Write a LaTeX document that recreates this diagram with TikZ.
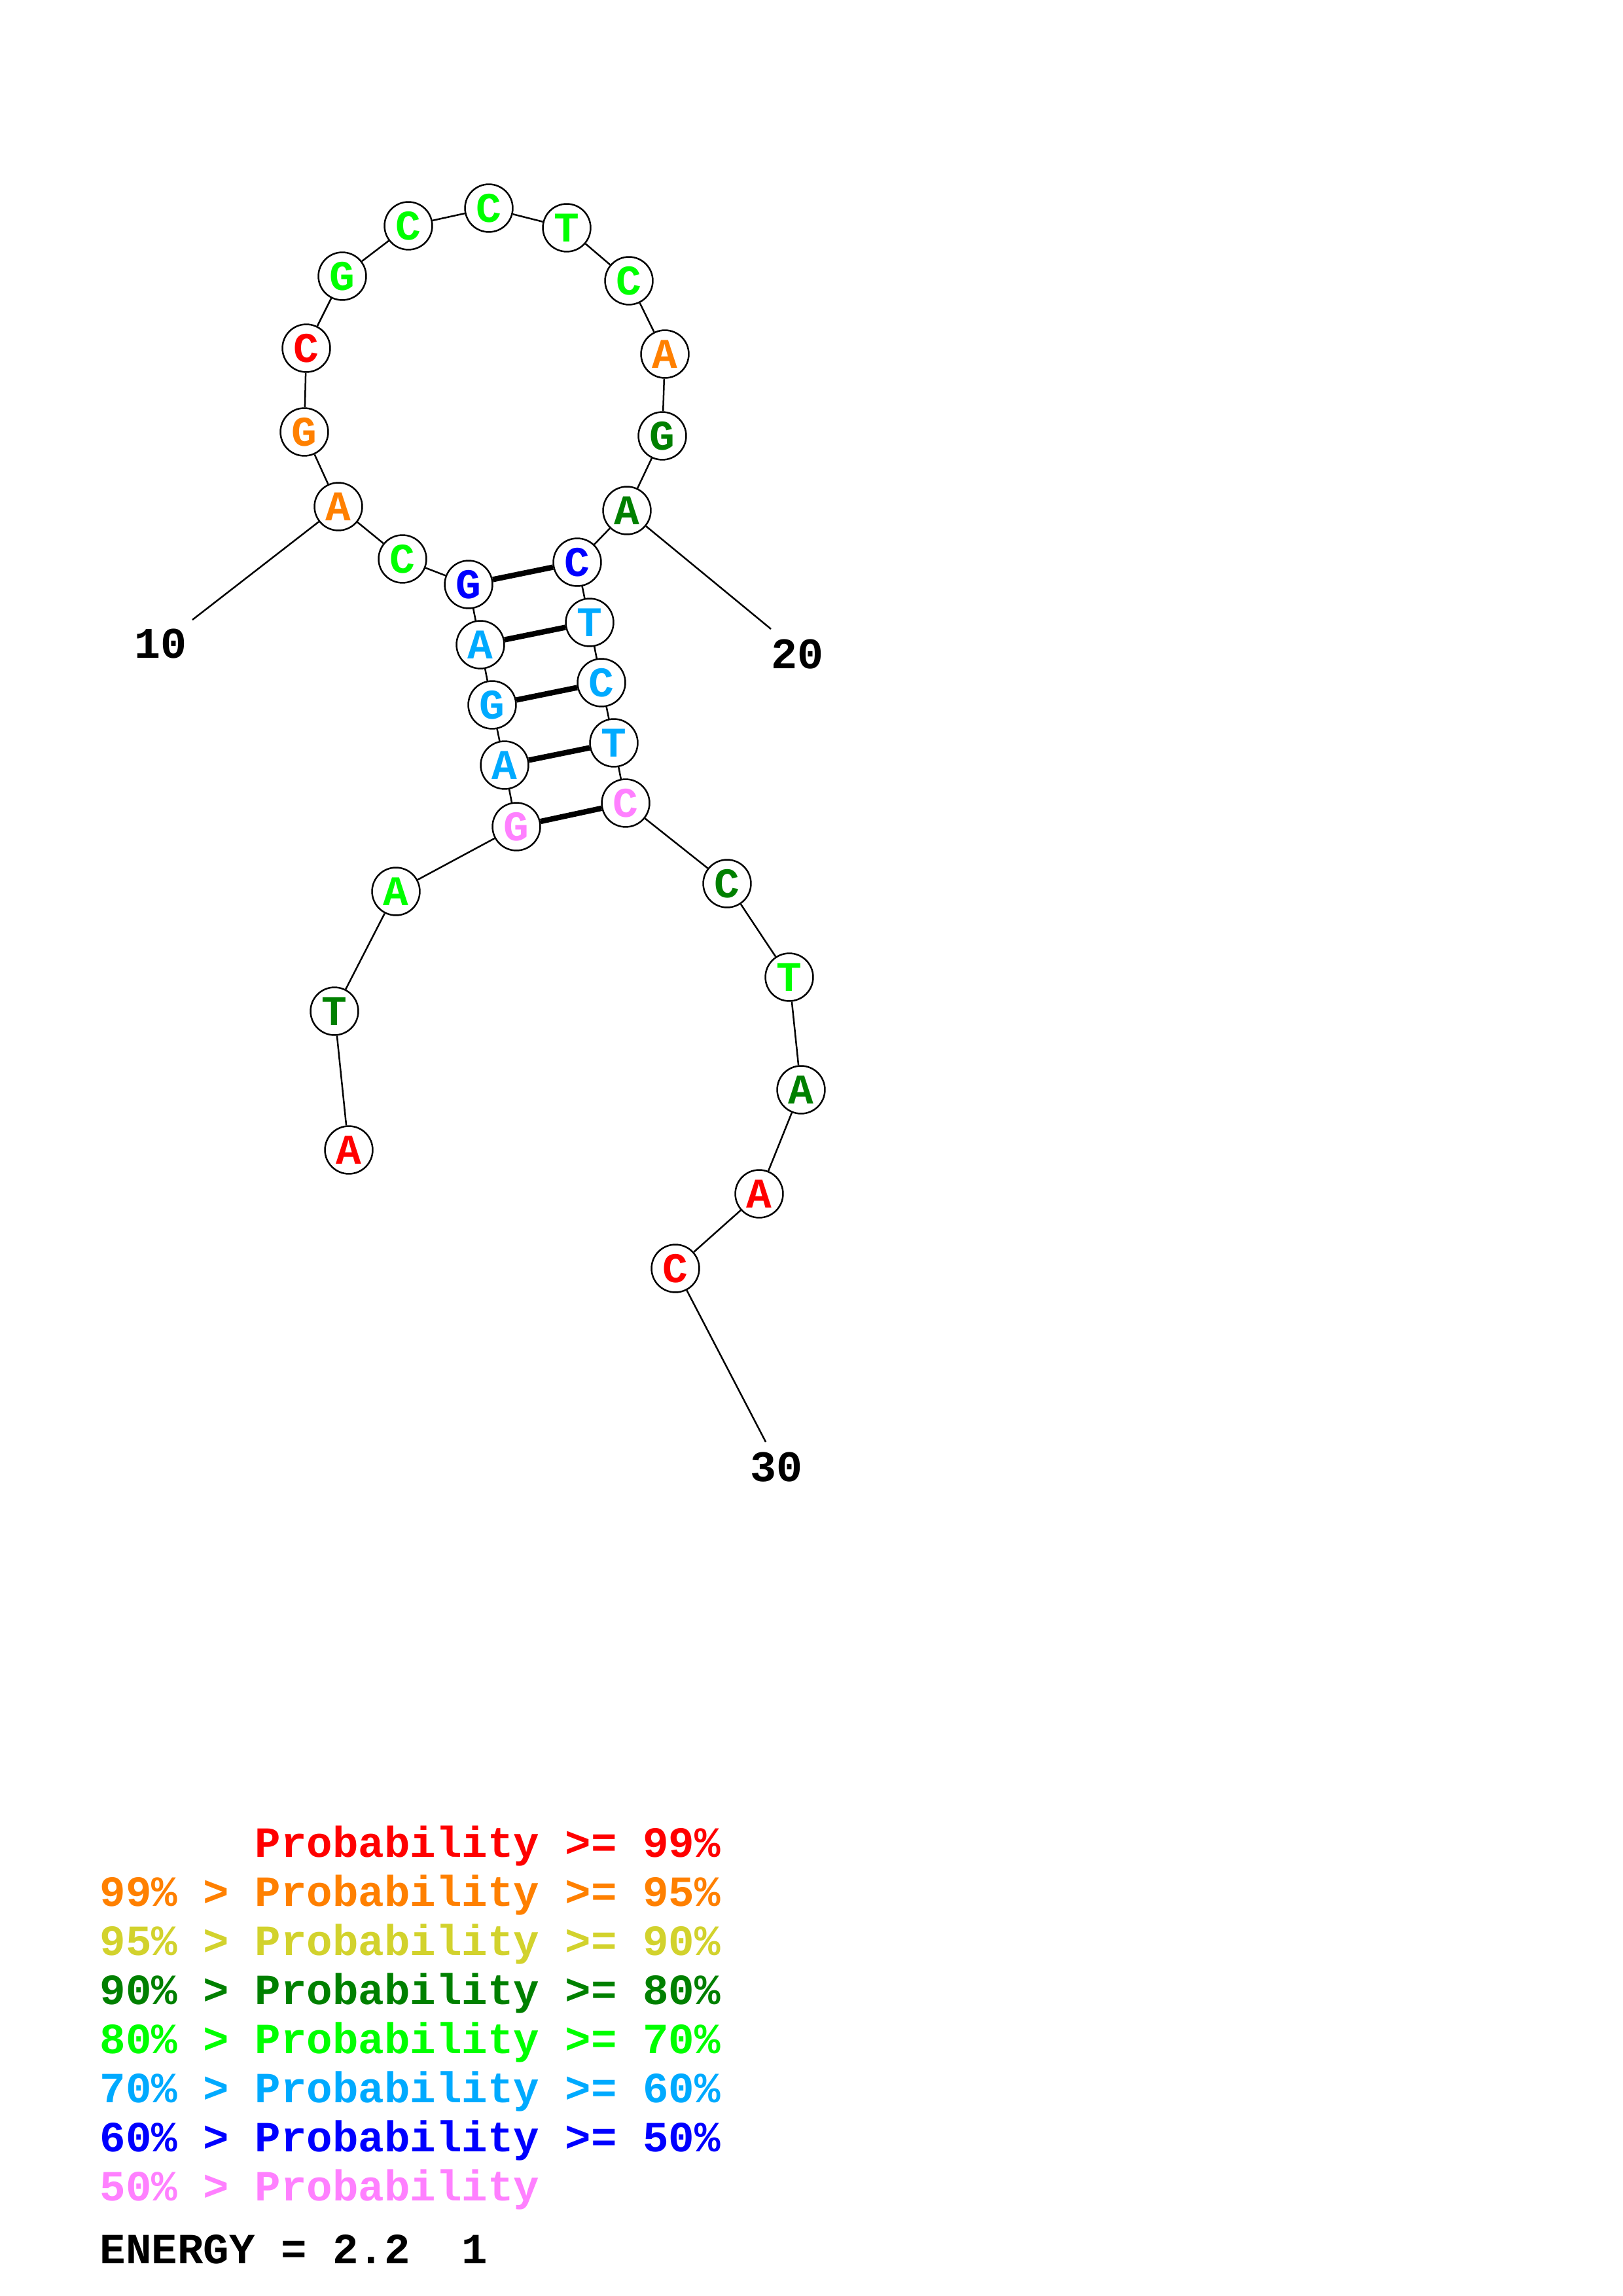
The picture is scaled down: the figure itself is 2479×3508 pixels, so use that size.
\documentclass[tikz,border=0pt]{standalone}
\usepackage{fontspec}
\setmonofont{Liberation Mono}
\definecolor{pR}{RGB}{255,0,0}
\definecolor{pO}{RGB}{255,128,0}
\definecolor{pY}{RGB}{210,210,45}
\definecolor{pDG}{RGB}{0,128,0}
\definecolor{pG}{RGB}{0,255,0}
\definecolor{pLB}{RGB}{0,170,255}
\definecolor{pB}{RGB}{0,0,255}
\definecolor{pP}{RGB}{255,128,255}
\begin{document}
\begin{tikzpicture}[x=0.24pt,y=-0.24pt,
  nt/.style={circle, draw=black, line width=0.6pt, fill=white, minimum size=17.5pt, inner sep=0pt,
    font=\ttfamily\bfseries\fontsize{15.5}{15.5}\selectfont},
  backbone/.style={line width=0.6pt},
  pairline/.style={line width=2pt},
  lbl/.style={font=\ttfamily\bfseries\fontsize{16}{16}\selectfont, inner sep=0pt},
  leg/.style={anchor=base west, inner sep=0pt, font=\ttfamily\bfseries\fontsize{15.8}{15.8}\selectfont}]
\useasboundingbox (0,0) rectangle (2479,3508);
% nucleotides
\node[nt, text=pR]  (n1)  at (533,1757) {A};
\node[nt, text=pDG] (n2)  at (511,1545) {T};
\node[nt, text=pG]  (n3)  at (605,1362) {A};
\node[nt, text=pP]  (n4)  at (789,1263) {G};
\node[nt, text=pLB] (n5)  at (771,1169) {A};
\node[nt, text=pLB] (n6)  at (752,1077) {G};
\node[nt, text=pLB] (n7)  at (734,985)  {A};
\node[nt, text=pB]  (n8)  at (716,893)  {G};
\node[nt, text=pG]  (n9)  at (615,854)  {C};
\node[nt, text=pO]  (n10) at (517,774)  {A};
\node[nt, text=pO]  (n11) at (465,660)  {G};
\node[nt, text=pR]  (n12) at (468,532)  {C};
\node[nt, text=pG]  (n13) at (523,422)  {G};
\node[nt, text=pG]  (n14) at (624,345)  {C};
\node[nt, text=pG]  (n15) at (747,318)  {C};
\node[nt, text=pG]  (n16) at (866,348)  {T};
\node[nt, text=pG]  (n17) at (961,429)  {C};
\node[nt, text=pO]  (n18) at (1016,541) {A};
\node[nt, text=pDG] (n19) at (1012,666) {G};
\node[nt, text=pDG] (n20) at (958,780)  {A};
\node[nt, text=pB]  (n21) at (882,859)  {C};
\node[nt, text=pLB] (n22) at (901,951)  {T};
\node[nt, text=pLB] (n23) at (919,1043) {C};
\node[nt, text=pLB] (n24) at (938,1135) {T};
\node[nt, text=pP]  (n25) at (956,1227) {C};
\node[nt, text=pDG] (n26) at (1111,1350) {C};
\node[nt, text=pG]  (n27) at (1206,1493) {T};
\node[nt, text=pDG] (n28) at (1224,1665) {A};
\node[nt, text=pR]  (n29) at (1160,1824) {A};
\node[nt, text=pR]  (n30) at (1032,1938) {C};
% backbone
\foreach \a/\b in {1/2,2/3,3/4,4/5,5/6,6/7,7/8,8/9,9/10,10/11,11/12,12/13,13/14,14/15,15/16,16/17,17/18,18/19,19/20,20/21,21/22,22/23,23/24,24/25,25/26,26/27,27/28,28/29,29/30}
  \draw[backbone] (n\a) -- (n\b);
% pairs
\foreach \a/\b in {4/25,5/24,6/23,7/22,8/21}
  \draw[pairline] (n\a) -- (n\b);
% numbering
\coordinate (c10) at (294,947);
\coordinate (c20) at (1178,961);
\coordinate (c30) at (1170,2203);
\draw[backbone] (n10) -- (c10);
\draw[backbone] (n20) -- (c20);
\draw[backbone] (n30) -- (c30);
\node[lbl] (l10) at (246,984) {10};
\node[lbl] (l20) at (1218,1000) {20};
\node[lbl] (l30) at (1186,2242) {30};
% legend
\node[leg, text=pR]  (g1) at (152,2837) {\phantom{99\% > }Probability >= 99\%};
\node[leg, text=pO]  (g2) at (152,2912) {99\% > Probability >= 95\%};
\node[leg, text=pY]  (g3) at (152,2987) {95\% > Probability >= 90\%};
\node[leg, text=pDG] (g4) at (152,3062) {90\% > Probability >= 80\%};
\node[leg, text=pG]  (g5) at (152,3137) {80\% > Probability >= 70\%};
\node[leg, text=pLB] (g6) at (152,3212) {70\% > Probability >= 60\%};
\node[leg, text=pB]  (g7) at (152,3287) {60\% > Probability >= 50\%};
\node[leg, text=pP]  (g8) at (152,3362) {50\% > Probability};
\node[leg, text=black] (en) at (152,3458) {ENERGY = 2.2~~1};
\end{tikzpicture}
\end{document}
